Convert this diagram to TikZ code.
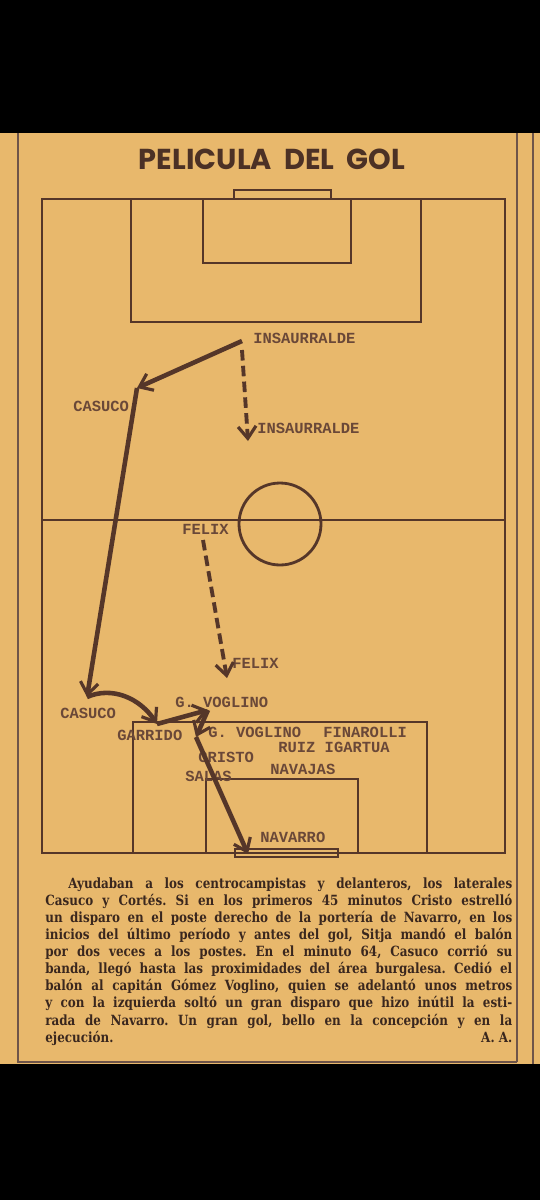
\documentclass[tikz,border=0pt]{standalone}
\usepackage{fontspec}
\usepackage{xcolor}
\usetikzlibrary{positioning,arrows.meta,calc}
\newfontfamily\typefont{Liberation Mono}
\newfontfamily\titlefont{Poppins}
\newfontfamily\bodyfont[FakeStretch=0.85]{DejaVu Serif}
\definecolor{paper}{HTML}{E8B86C}
\definecolor{ink}{HTML}{553629}
\definecolor{typeink}{HTML}{6A4838}
\definecolor{printink}{HTML}{3A271E}

\begin{document}
\begin{tikzpicture}[
  x=0.02cm, y=-0.02cm,
  lbl/.style={anchor=west, inner sep=0pt, text=typeink,
              font=\typefont\bfseries\fontsize{8.8}{9}\selectfont},
  pitch/.style={draw=ink, line width=1.6pt},
  frame/.style={draw=ink!85, line width=0.9pt},
  pass/.style={draw=ink, line width=2.6pt,
               -{Straight Barb[length=2.4mm, width=3.6mm, line width=1.8pt]}},
  run/.style={pass, line width=2.2pt, dash pattern=on 6pt off 3pt},
]
\useasboundingbox (0,0) rectangle (540,1200);
\fill[black] (0,0) rectangle (540,1200);
\fill[paper] (0,133) rectangle (540,1064);

% column rules
\draw[frame] (18,133) -- (18,1062) -- (517,1062);
\draw[frame] (517,133) -- (517,1062);
\draw[frame] (533,133) -- (533,1064);

% title
\node[text=ink!90!black, font=\titlefont\bfseries\fontsize{16.4}{17}\selectfont]
  (title) at (272,159) {PELICULA\ \ DEL\ \ GOL};

% pitch
\draw[pitch] (42,199) rectangle (505,853);
\draw[pitch] (42,520) -- (505,520);
\draw[pitch] (280,524) circle[radius=41];
\draw[pitch] (131,199) -- (131,322) -- (421,322) -- (421,199);
\draw[pitch] (203,199) -- (203,263) -- (351,263) -- (351,199);
\draw[pitch, line width=1.1pt] (234,190) rectangle (331,199);
\draw[pitch] (133,853) -- (133,722) -- (427,722) -- (427,853);
\draw[pitch] (206,853) -- (206,779) -- (358,779) -- (358,853);
\draw[pitch, line width=1.1pt] (235,849) rectangle (338,857);

% players
\node[lbl] (insLabA) at (253,338) {INSAURRALDE};
\node[lbl] (insLabB) at (257,428) {INSAURRALDE};
\node[lbl] (casLabA) at (73,406) {CASUCO};
\node[lbl] (felLabA) at (182,529) {FELIX};
\node[lbl] (felLabB) at (232,663) {FELIX};
\node[lbl] (casLabB) at (60,713) {CASUCO};
\node[lbl] (garLab) at (117,735) {GARRIDO};
\node[lbl] (vogLabA) at (175,702) {G. VOGLINO};
\node[lbl] (vogLabB) at (208,732) {G. VOGLINO};
\node[lbl] (finLab) at (323,732) {FINAROLLI};
\node[lbl] (ruiLab) at (278,747) {RUIZ IGARTUA};
\node[lbl] (criLab) at (198,757) {CRISTO};
\node[lbl] (salLab) at (185,776) {SALAS};
\node[lbl] (najLab) at (270,769) {NAVAJAS};
\node[lbl] (navLab) at (260,837) {NAVARRO};

% ball path
\coordinate (insA) at (242,341);
\coordinate (insS) at (242,350);
\coordinate (insB) at (248,441);
\coordinate (casA) at (137,388);
\coordinate (casB) at (87,697);
\coordinate (garr) at (157,724);
\coordinate (vogA) at (208,710);
\coordinate (vogB) at (196,737);
\coordinate (felA) at (203,540);
\coordinate (felB) at (227,678);
\coordinate (goal) at (248,854);

\draw[pass] (insA) -- (casA);
\draw[run] (insS) -- (insB);
\draw[pass] (casA) -- (casB);
\draw[pass] (casB) .. controls (112,686) and (140,698) .. (garr);
\draw[pass] (garr) -- (vogA);
\draw[pass] (vogA) -- (vogB);
\draw[pass] (vogB) -- (goal);
\draw[run] (felA) -- (felB);

% story
\node[anchor=north west, inner sep=0pt, text width=9.34cm, align=justify,
      text=printink, font=\bodyfont\bfseries\fontsize{8}{9.75}\selectfont\frenchspacing]
  (story) at (45,877) {%
\hspace*{0.46cm}Ayudaban a los centrocampistas y delanteros, los laterales\linebreak
Casuco y Cortés. Si en los primeros 45 minutos Cristo estrelló\linebreak
un disparo en el poste derecho de la portería de Navarro, en los\linebreak
inicios del último período y antes del gol, Sitja mandó el balón\linebreak
por dos veces a los postes. En el minuto 64, Casuco corrió su\linebreak
banda, llegó hasta las proximidades del área burgalesa. Cedió el\linebreak
balón al capitán Gómez Voglino, quien se adelantó unos metros\linebreak
y con la izquierda soltó un gran disparo que hizo inútil la esti-\linebreak
rada de Navarro. Un gran gol, bello en la concepción y en la\linebreak
ejecución.\hfill A.~A.};
\end{tikzpicture}
\end{document}
